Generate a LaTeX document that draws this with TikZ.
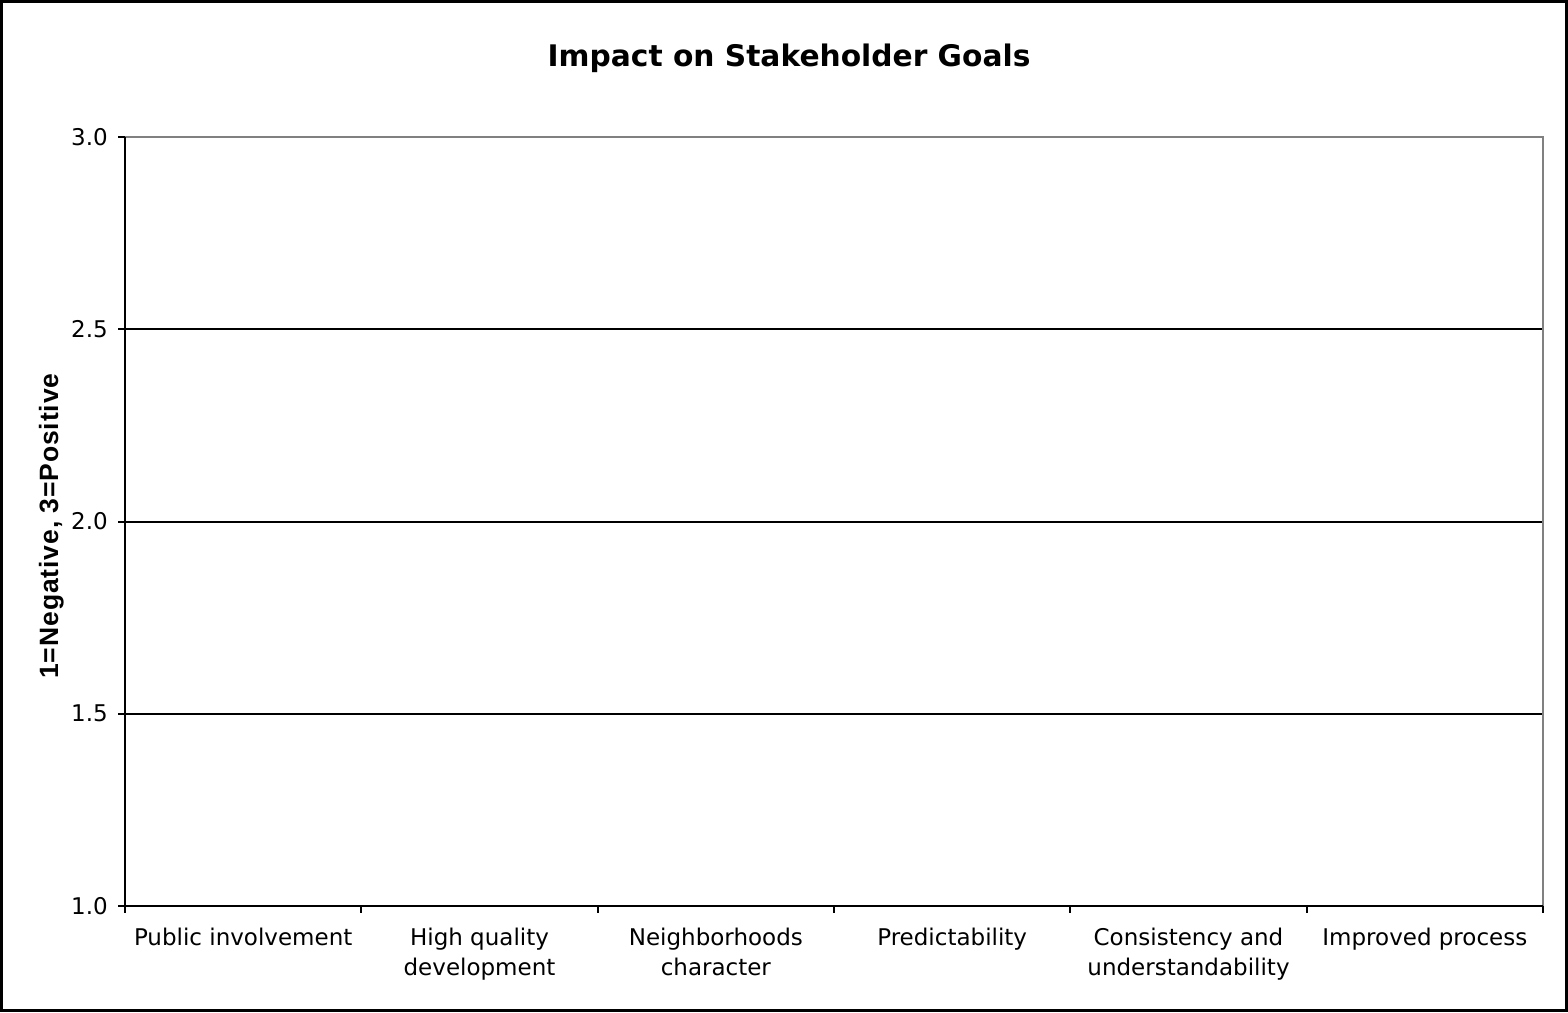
\documentclass[tikz,border=0pt]{standalone}
\usepackage{fontspec}
\setmainfont{DejaVu Sans}
\newfontfamily\arialfont[LetterSpace=3.4]{Liberation Sans}
\begin{document}
\begin{tikzpicture}[x=1pt,y=-1pt,
  axisline/.style={black,line width=2pt},
  gridline/.style={black,line width=2pt},
  frameline/.style={gray,line width=2.2pt},
  ticklabel/.style={anchor=east,font=\fontsize{23}{28}\selectfont,inner sep=0pt},
  catlabel/.style={anchor=north,align=center,font=\fontsize{23}{30}\selectfont,inner sep=0pt},
]
\useasboundingbox (0,0) rectangle (1568,1012);
\draw[black,line width=2.6pt] (1.3,1.3) rectangle (1566.7,1010.7);
% plot area corners
\coordinate (tl) at (125,137);
\coordinate (tr) at (1543,137);
\coordinate (bl) at (125,906);
\coordinate (br) at (1543,906);
% gridlines
\foreach \k/\y in {1/329.25,2/521.5,3/713.75}{
  \coordinate (gl\k) at (125,\y);
  \coordinate (gr\k) at (1543,\y);
  \draw[gridline] (gl\k) -- (gr\k);
}
% frame (top/right gray)
\draw[frameline] (tl) -- (tr) -- (br);
% axes
\draw[axisline] (tl) -- (bl) -- (br);
% y ticks and labels
\foreach \k/\v/\y in {0/3.0/137,1/2.5/329.25,2/2.0/521.5,3/1.5/713.75,4/1.0/906}{
  \coordinate (yt\k) at (118,\y);
  \draw[axisline] (yt\k) -- ++(7,0);
  \node[ticklabel] (yl\k) at (108,\y) {\v};
}
% x ticks
\foreach \i in {0,...,6}{
  \coordinate (xt\i) at ({125+\i*236.333},906);
  \draw[axisline] (xt\i) -- ++(0,7);
}
% category labels
\foreach \i/\t in {1/Public involvement,2/High quality\\development,3/Neighborhoods\\character,4/Predictability,5/Consistency and\\understandability,6/Improved process}{
  \node[catlabel] (c\i) at ({125+(\i-0.5)*236.333},928) {\t};
}
% title
\node[font=\fontsize{29.7}{36}\selectfont\bfseries,inner sep=0pt,anchor=base] (title) at (789,66.5) {Impact on Stakeholder Goals};
% y axis label
\node[font=\arialfont\fontsize{26.5}{30}\selectfont\bfseries,rotate=90,inner sep=0pt,anchor=base] (ylab) at (58,526) {1=Negative, 3=Positive};
\end{tikzpicture}
\end{document}
